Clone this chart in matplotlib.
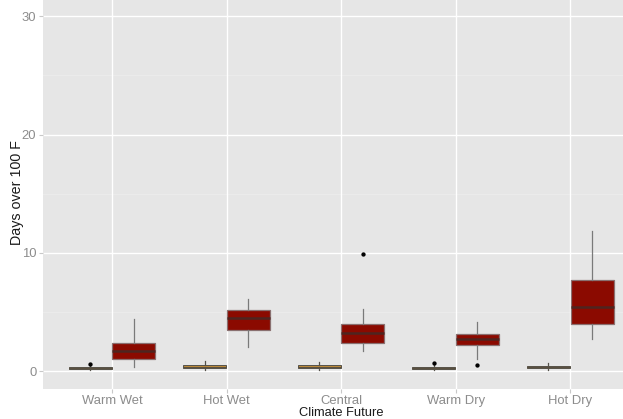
import matplotlib
matplotlib.use("Agg")
import matplotlib.pyplot as plt
from matplotlib.ticker import FixedLocator

plt.rcParams['font.family'] = ['Liberation Sans', 'DejaVu Sans']

futures = ["Warm Wet", "Hot Wet", "Central", "Warm Dry", "Hot Dry"]

# Historical period: box-plot summaries per climate future
hist_whislo = [0.10, 0.10, 0.10, 0.10, 0.10]
hist_q1 = [0.20, 0.25, 0.25, 0.17, 0.25]
hist_med = [0.30, 0.40, 0.35, 0.25, 0.35]
hist_q3 = [0.40, 0.50, 0.50, 0.35, 0.45]
hist_whishi = [0.50, 0.85, 0.75, 0.50, 0.70]
hist_fliers = [[0.65], [], [], [0.67], []]

# Future period: box-plot summaries per climate future
fut_whislo = [0.36, 2.08, 1.71, 1.00, 2.76]
fut_q1 = [1.01, 3.48, 2.42, 2.19, 3.96]
fut_med = [1.71, 4.49, 3.20, 2.70, 5.46]
fut_q3 = [2.42, 5.17, 3.96, 3.18, 7.70]
fut_whishi = [4.38, 6.13, 5.29, 4.16, 11.83]
fut_fliers = [[], [], [9.95], [0.57], []]

y_ticks = [0, 10, 20, 30]

W, H = 623, 419
fig = plt.figure(figsize=(W / 100, H / 100), dpi=100)
ax = fig.add_axes([43.3 / W, (H - 389) / H, 595.7 / W, 390.4 / H])
ax.set_facecolor('#E6E6E6')
for s in ax.spines.values():
    s.set_visible(False)

ax.set_xlim(0.4, 5.6)
ax.set_ylim(-1.5, 31.5)

# grid
for v in [5, 15, 25]:
    ax.axhline(v, color='#EDEDED', lw=0.6, zorder=0)
for v in y_ticks:
    ax.axhline(v, color='white', lw=1.0, zorder=0)
for i in range(len(futures)):
    ax.axvline(i + 1, color='white', lw=1.0, zorder=0)


def stats(lo, q1, med, q3, hi, fl):
    return [dict(whislo=a, q1=b, med=c, q3=d, whishi=e, fliers=f)
            for a, b, c, d, e, f in zip(lo, q1, med, q3, hi, fl)]


dodge = 0.19
width = 0.375
common = dict(widths=width, patch_artist=True, showcaps=False,
              manage_ticks=False, zorder=3)
flier = dict(marker='o', markerfacecolor='black', markeredgecolor='black',
             markersize=2.1, linestyle='none')

bh = ax.bxp(stats(hist_whislo, hist_q1, hist_med, hist_q3, hist_whishi, hist_fliers),
            positions=[i + 1 - dodge for i in range(len(futures))],
            boxprops=dict(facecolor='#C8923A', edgecolor='#55524a', lw=0.7),
            medianprops=dict(color='#5a5040', lw=0.9),
            whiskerprops=dict(color='#55524a', lw=0.9),
            flierprops=flier, **common)

bf = ax.bxp(stats(fut_whislo, fut_q1, fut_med, fut_q3, fut_whishi, fut_fliers),
            positions=[i + 1 + dodge for i in range(len(futures))],
            boxprops=dict(facecolor='#8B0A00', edgecolor='#8a7070', lw=0.9),
            medianprops=dict(color='#4e2520', lw=1.8),
            whiskerprops=dict(color='#7a7a7a', lw=0.9),
            flierprops=flier, **common)

ax.xaxis.set_major_locator(FixedLocator(range(1, len(futures) + 1)))
ax.set_xticklabels(futures)
ax.set_yticks(y_ticks)
ax.set_yticklabels([str(v) for v in y_ticks])
ax.tick_params(axis='both', colors='#c8c8c8', length=3, width=0.8,
               labelsize=9.4, labelcolor='#8c8c8c', pad=2)
ax.tick_params(axis='x', pad=1)

fig.text(341 / W, 1 - 419 / H, "Climate Future", ha='center', va='bottom',
         fontsize=9.3, color='#1a1a1a')
fig.text(17 / W, 1 - 193 / H, "Days over 100 F", ha='center', va='center',
         rotation=90, fontsize=10.3, color='#1a1a1a')

fig.savefig("out.png", dpi=100)
